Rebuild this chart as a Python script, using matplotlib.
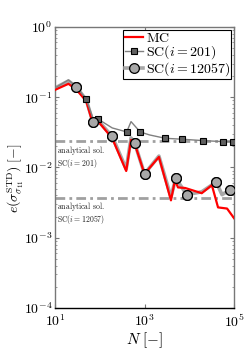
import matplotlib
matplotlib.use("Agg")
import matplotlib.pyplot as plt
from matplotlib.ticker import FuncFormatter, LogLocator, NullFormatter, FixedLocator, NullLocator
import numpy as np

plt.rcParams['mathtext.fontset'] = 'cm'
plt.rcParams['font.family'] = ['DejaVu Serif']

# Monte Carlo error
mc_N = [10, 20, 30, 50, 70, 90, 190, 390, 500, 600, 1000, 2100, 3900, 4800,
        5600, 8100, 19000, 32000, 44000, 70000, 100000]
mc_e = [0.127, 0.155, 0.128, 0.088, 0.042, 0.046, 0.026, 0.0089, 0.0246, 0.022,
        0.0081, 0.0141, 0.0034, 0.0066, 0.0052, 0.0051, 0.0043, 0.0056, 0.0027,
        0.0026, 0.0019]

# SC(i = 201)
sc1_N = [10, 20, 30, 50, 70, 93, 190, 400, 500, 800, 1300, 2900, 7000, 20000,
         58000, 93000]
sc1_e = [0.135, 0.176, 0.140, 0.094, 0.0507, 0.0485, 0.0365, 0.032, 0.0449,
         0.032, 0.029, 0.026, 0.0252, 0.0241, 0.0233, 0.0233]
sc1_marks = [3, 5, 7, 9, 11, 12, 13, 14, 15]

# SC(i = 12057)
sc2_N = [10, 20, 30, 50, 70, 90, 190, 390, 500, 600, 1000, 2100, 3900, 5000,
         8800, 19000, 40000, 54000, 81000]
sc2_e = [0.135, 0.170, 0.140, 0.091, 0.0449, 0.047, 0.0276, 0.0095, 0.0263,
         0.0225, 0.0081, 0.0145, 0.0038, 0.0070, 0.0041, 0.0045, 0.0062,
         0.0041, 0.0048]
sc2_marks = [2, 4, 6, 9, 10, 13, 14, 16, 18]

# analytical solutions
ana_e = [0.0238, 0.0037]
ana_labels = [r'$\mathrm{analytical\ sol.}$' + '\n' + r'$\mathrm{SC}(i=201)$',
              r'$\mathrm{analytical\ sol.}$' + '\n' + r'$\mathrm{SC}(i=12057)$']

fig = plt.figure(figsize=(2.45, 3.54), dpi=100)
ax = fig.add_axes([0.2245, 0.130, 0.7306, 0.794])

for e in ana_e:
    ax.axhline(e, color='#a0a0a0', lw=2.0, ls=(0, (3.5, 1.5, 1, 1.5)), zorder=1)

ax.plot(sc2_N, sc2_e, color='#a8a8a8', lw=2.6, marker='o', markevery=sc2_marks,
        markersize=7, markerfacecolor='#a8a8a8', markeredgecolor='black',
        markeredgewidth=0.9, zorder=2, label=r'$\mathrm{SC}(i=12057)$')
ax.plot(mc_N, mc_e, color='red', lw=1.6, zorder=3, label=r'$\mathrm{MC}$')
ax.plot(sc1_N, sc1_e, color='#808080', lw=1.0, marker='s', markevery=sc1_marks,
        markersize=5, markerfacecolor='#606060', markeredgecolor='black',
        markeredgewidth=0.8, zorder=4, label=r'$\mathrm{SC}(i=201)$')
# redraw circle markers above red line
ax.plot([sc2_N[i] for i in sc2_marks], [sc2_e[i] for i in sc2_marks], ls='none',
        marker='o', markersize=7, markerfacecolor='#a8a8a8',
        markeredgecolor='black', markeredgewidth=0.9, zorder=5)

ax.set_xscale('log')
ax.set_yscale('log')
ax.set_xlim(10, 1e5)
ax.set_ylim(1e-4, 1)

for e, lab in zip(ana_e, ana_labels):
    ax.text(11.2, e * 0.92, lab, fontsize=5.6, va='top', ha='left',
            color='#222222', linespacing=1.0)

fmt = FuncFormatter(lambda v, p: r'$\mathsf{10^{%d}}$' % int(round(np.log10(v))))
ax.xaxis.set_major_locator(FixedLocator([1e1, 1e3, 1e5]))
ax.xaxis.set_major_formatter(fmt)
ax.yaxis.set_major_locator(FixedLocator([1e-4, 1e-3, 1e-2, 1e-1, 1]))
ax.yaxis.set_major_formatter(fmt)
ax.xaxis.set_minor_locator(NullLocator())
ax.yaxis.set_minor_locator(LogLocator(base=10, subs=np.arange(2, 10), numticks=20))
ax.yaxis.set_minor_formatter(NullFormatter())
ax.tick_params(which='both', direction='in', top=True, right=True, colors='#777777',
               labelcolor='black', labelsize=10)
ax.tick_params(which='major', length=3, width=0.8)
ax.tick_params(axis='y', which='major', pad=2)
ax.tick_params(axis='x', which='major', pad=4)
ax.tick_params(which='minor', length=1.5, width=0.5)

for s in ['left', 'right', 'top']:
    ax.spines[s].set_color('#777777')
    ax.spines[s].set_linewidth(1.0)
ax.spines['bottom'].set_color('black')
ax.spines['bottom'].set_linewidth(1.0)

ax.set_xlabel(r'$N\ [-]$', fontsize=11, labelpad=0)
ax.set_ylabel(r'$e(\sigma_{\sigma_{11}}^{\mathrm{STD}})\ [-]$', fontsize=10)
ax.yaxis.set_label_coords(-0.16, 0.46)

h, l = ax.get_legend_handles_labels()
order = [1, 2, 0]
leg = ax.legend([h[i] for i in order], [l[i] for i in order], loc='upper right',
                fontsize=10, frameon=True, fancybox=False, edgecolor='black',
                framealpha=1, handlelength=1.3, handletextpad=0.2,
                labelspacing=-0.1, borderpad=0.1, borderaxespad=0.2)
leg.get_frame().set_linewidth(0.8)

fig.savefig('out.png', dpi=100)
